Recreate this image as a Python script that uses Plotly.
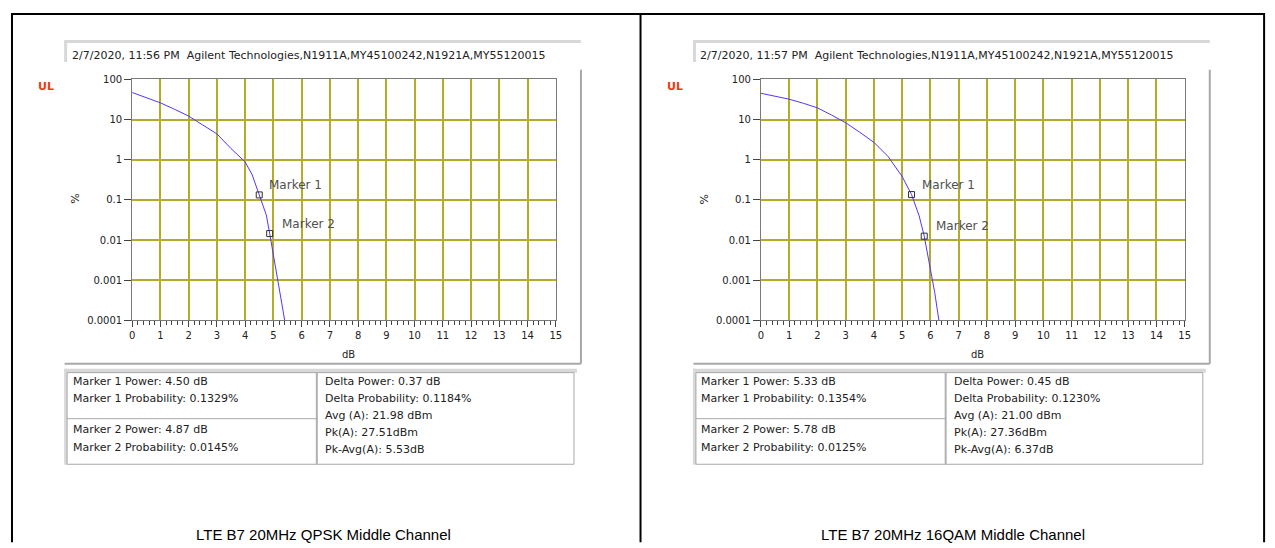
import math
import plotly.graph_objects as go

W, H = 1275, 548
PAD = 8  # the page body margin pushes the figure 8px right/down

# ---- data ----
x_ticks = list(range(0, 16))
y_tickvals = [100, 10, 1, 0.1, 0.01, 0.001, 0.0001]
y_ticktext = ["100", "10", "1", "0.1", "0.01", "0.001", "0.0001"]

qpsk_db = [0, 0.5, 1.0, 1.5, 2.0, 2.5, 3.0, 3.5, 4.0, 4.25, 4.5, 4.75, 4.87, 5.0, 5.15, 5.3, 5.4]
qpsk_pct = [47, 35, 26, 18, 12.2, 7.3, 4.4, 1.9, 0.88, 0.42, 0.1329, 0.042, 0.0145, 0.0046, 0.0012, 0.00026, 0.0001]

qam_db = [0, 0.5, 1.0, 1.5, 2.0, 2.5, 3.0, 3.5, 4.0, 4.5, 5.0, 5.33, 5.6, 5.78, 6.0, 6.15, 6.3]
qam_pct = [45, 37.6, 32, 25.4, 19.5, 12.9, 8.3, 4.8, 2.7, 1.2, 0.38, 0.1354, 0.04, 0.0125, 0.002, 0.0005, 0.0001]

qpsk_mk_db = [4.50, 4.87]
qpsk_mk_pct = [0.1329, 0.0145]
qam_mk_db = [5.33, 5.78]
qam_mk_pct = [0.1354, 0.0125]

headers = [
    "2/7/2020, 11:56 PM\u00a0\u00a0Agilent Technologies,N1911A,MY45100242,N1921A,MY55120015",
    "2/7/2020, 11:57 PM\u00a0\u00a0Agilent Technologies,N1911A,MY45100242,N1921A,MY55120015",
]
captions = ["LTE B7 20MHz QPSK Middle Channel", "LTE B7 20MHz 16QAM Middle Channel"]

tbl_m1 = [
    ["Marker 1 Power: 4.50 dB", "Marker 1 Probability: 0.1329%"],
    ["Marker 1 Power: 5.33 dB", "Marker 1 Probability: 0.1354%"],
]
tbl_m2 = [
    ["Marker 2 Power: 4.87 dB", "Marker 2 Probability: 0.0145%"],
    ["Marker 2 Power: 5.78 dB", "Marker 2 Probability: 0.0125%"],
]
tbl_right = [
    ["Delta Power: 0.37 dB", "Delta Probability: 0.1184%", "Avg (A): 21.98 dBm",
     "Pk(A): 27.51dBm", "Pk-Avg(A): 5.53dB"],
    ["Delta Power: 0.45 dB", "Delta Probability: 0.1230%", "Avg (A): 21.00 dBm",
     "Pk(A): 27.36dBm", "Pk-Avg(A): 6.37dB"],
]


def px(x):
    return (x - PAD) / W


def py(y):
    return 1 - (y - PAD) / H


def hline(x0, x1, y, color, width):
    return dict(type="line", xref="paper", yref="paper", x0=px(x0), x1=px(x1),
                y0=py(y), y1=py(y), line=dict(color=color, width=width))


def vline(x, y0, y1, color, width):
    return dict(type="line", xref="paper", yref="paper", x0=px(x), x1=px(x),
                y0=py(y0), y1=py(y1), line=dict(color=color, width=width))


def label(x, y, text, size=11, color="#222", xanchor="left", family="DejaVu Sans", **kw):
    return dict(x=px(x), y=py(y), xref="paper", yref="paper", text=text, showarrow=False,
                xanchor=xanchor, yanchor="middle",
                font=dict(family=family, size=size, color=color), **kw)


FONT = "DejaVu Sans"
GRID = "rgb(178,172,40)"
CURVE = "rgb(80,55,255)"

fig = go.Figure()

series = [(qpsk_db, qpsk_pct, qpsk_mk_db, qpsk_mk_pct), (qam_db, qam_pct, qam_mk_db, qam_mk_pct)]
OFF = 633.3  # horizontal offset of the second panel

shapes = []
annotations = []

for i, (xd, yd, mx, my) in enumerate(series):
    xa = "x" if i == 0 else "x2"
    ya = "y" if i == 0 else "y2"
    fig.add_trace(go.Scatter(x=xd, y=yd, mode="lines", line=dict(color=CURVE, width=1),
                             xaxis=xa, yaxis=ya, showlegend=False, hoverinfo="skip"))
    fig.add_trace(go.Scatter(x=mx, y=my, mode="markers", xaxis=xa, yaxis=ya, showlegend=False,
                             marker=dict(symbol="square-open", size=6, color="#303030",
                                         line=dict(width=1, color="#303030"))))
    for k, (shx, shy) in enumerate([(8, 10), (10, 10)]):
        # log axis: annotation y is given in log10 units
        annotations.append(dict(x=mx[k], y=math.log10(my[k]), xref=xa, yref=ya,
                                text=f"Marker {k + 1}", showarrow=False,
                                xanchor="left", yanchor="middle", xshift=shx, yshift=shy,
                                font=dict(family=FONT, size=12, color="#505050")))

    o = OFF * i
    axis_common = dict(showline=True, linecolor="#7a7a7a", linewidth=1, mirror=True,
                       zeroline=False, gridcolor=GRID, gridwidth=1.5,
                       tickfont=dict(family=FONT, size=10, color="#222"),
                       ticks="outside", tickcolor="#444")
    xaxis = dict(domain=[px(130 + o), px(556.7 + o)], range=[0, 15], tickvals=x_ticks,
                 ticklen=6, anchor=ya,
                 minor=dict(dtick=0.2, ticks="outside", ticklen=4, tickcolor="#444", showgrid=False),
                 **axis_common)
    yaxis = dict(domain=[py(321.7), py(75.7)], type="log", range=[-4, 2],
                 tickvals=y_tickvals, ticktext=y_ticktext, ticklen=7, anchor=xa, **axis_common)
    fig.update_layout(**{("xaxis" if i == 0 else "xaxis2"): xaxis,
                         ("yaxis" if i == 0 else "yaxis2"): yaxis})

    # header strip
    shapes.append(hline(62 + o, 582 + o, 37, "#d8d8d8", 3))
    shapes.append(vline(63 + o, 36, 58, "#d8d8d8", 3))
    annotations.append(label(67 + o, 51, headers[i]))

    # graph panel edge
    shapes.append(vline(582 + o, 66, 366, "#a8a8a8", 2))
    shapes.append(hline(62 + o, 582 + o, 366, "#a8a8a8", 2))

    # labels around the plot
    annotations.append(label(43 + o, 83, "<b>UL</b>", size=11, color="#f03a10", xanchor="center"))
    annotations.append(label(73 + o, 198, "%", size=11, xanchor="center", textangle=-90))
    annotations.append(label(348 + o, 356, "dB", size=10, xanchor="center"))

    # marker table
    shapes.append(hline(62 + o, 578 + o, 373, "#d8d8d8", 4))
    shapes.append(vline(63 + o, 371, 469, "#d8d8d8", 3))
    shapes.append(dict(type="rect", xref="paper", yref="paper",
                       x0=px(64.5 + o), x1=px(575 + o), y0=py(375), y1=py(468.5),
                       line=dict(color="#a8a8a8", width=1)))
    shapes.append(vline(316 + o, 375, 468.5, "#b0b0b0", 2))
    shapes.append(hline(64.5 + o, 316 + o, 422, "#a8a8a8", 1))
    for txt, yy in zip(tbl_m1[i] + tbl_m2[i], [384, 401, 433, 451]):
        annotations.append(label(68 + o, yy, txt))
    for txt, yy in zip(tbl_right[i], [384, 401, 419, 436, 453]):
        annotations.append(label(322 + o, yy, txt))

    # caption
    annotations.append(label(323 + o, 540, captions[i], size=15, color="#000",
                             xanchor="center", family="Liberation Sans"))

# outer black frame (top/left edge sit on the figure border)
shapes.append(hline(PAD, 1270, PAD + 1, "#000", 2))
shapes.append(vline(PAD + 1, PAD, 548, "#000", 2))
for x in (642, 1270):
    shapes.append(vline(x, PAD, 548, "#000", 2))

fig.update_layout(width=W, height=H, margin=dict(l=0, r=0, t=0, b=0),
                  paper_bgcolor="white", plot_bgcolor="white",
                  shapes=shapes, annotations=annotations, showlegend=False)

fig.write_html("out.html")
